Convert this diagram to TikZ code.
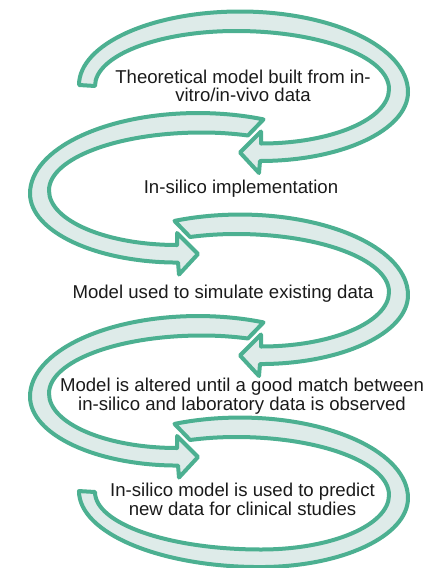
\documentclass[tikz,border=0pt]{standalone}
\usepackage{fontspec}
\setmainfont{Liberation Sans}
\definecolor{bandline}{RGB}{76,176,145}
\definecolor{bandfill}{RGB}{222,235,233}
\definecolor{txt}{RGB}{26,26,26}

\begin{document}
\begin{tikzpicture}[x=1pt, y=-1pt,
    band/.style={draw=bandline, fill=bandfill, line width=4pt, line join=round},
    lbl/.style={font=\fontsize{18.6}{18.4}\selectfont, text=txt, align=center, anchor=base, inner sep=0pt}]
          \useasboundingbox (0,0) rectangle (432,568);

          \draw[band] (95,86) arc[start angle=180, end angle=270, x radius=141, y radius=55]
            arc[start angle=270, end angle=360, x radius=153, y radius=58]
            arc[start angle=0, end angle=90, x radius=128, y radius=54.5]
            -- (261,131.5) -- (240,152.5) -- (259,173) -- (260,161)
            arc[start angle=90, end angle=0, x radius=148, y radius=69]
            arc[start angle=360, end angle=270, x radius=168, y radius=80.5]
            arc[start angle=270, end angle=180, x radius=161, y radius=73.5] -- cycle;

          \foreach \dx/\dy/\flip in {438/101.5/-1, 0/203/1, 438/304.5/-1}{
            \begin{scope}[shift={(\dx,\dy)}, xscale=\flip]
              \draw[band] (174.5,17.9) arc[start angle=246, end angle=270, x radius=161, y radius=73.5]
                arc[start angle=270, end angle=360, x radius=168, y radius=80.5]
                arc[start angle=0, end angle=90, x radius=148, y radius=69]
                -- (259,173) -- (240,152.5) -- (261,131.5) -- (261,143.5)
                arc[start angle=90, end angle=0, x radius=128, y radius=54.5]
                arc[start angle=360, end angle=270, x radius=153, y radius=58]
                arc[start angle=270, end angle=251, x radius=141, y radius=55] -- cycle;
            \end{scope}
          }

          \begin{scope}[shift={(0,406)}]
            \draw[band] (174.5,17.9) arc[start angle=246, end angle=270, x radius=161, y radius=73.5]
              arc[start angle=270, end angle=360, x radius=168, y radius=80.5]
              arc[start angle=0, end angle=90, x radius=148, y radius=69]
              arc[start angle=90, end angle=180, x radius=181, y radius=76]
              -- (95,86)
              arc[start angle=180, end angle=90, x radius=166, y radius=57.5]
              arc[start angle=90, end angle=0, x radius=128, y radius=54.5]
              arc[start angle=360, end angle=270, x radius=153, y radius=58]
              arc[start angle=270, end angle=251, x radius=141, y radius=55] -- cycle;
          \end{scope}

          \node[lbl] (theory) at (243,101.7) {Theoretical model built from in-\\vitro/in-vivo data};
          \node[lbl] (insilico) at (241,193.3) {In-silico implementation};
          \node[lbl] (simulate) at (223,298.3) {Model used to simulate existing data};
          \node[lbl] (alter) at (242,410) {Model is altered until a good match between\\in-silico and laboratory data is observed};
          \node[lbl] (predict) at (242.5,515) {In-silico model is used to predict\\new data for clinical studies};
\end{tikzpicture}
\end{document}
